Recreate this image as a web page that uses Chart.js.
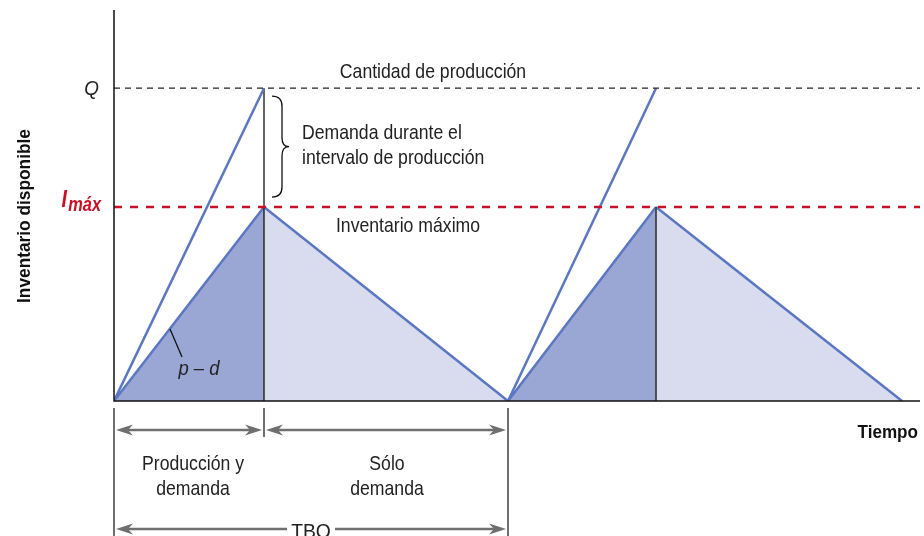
<!DOCTYPE html>
<html>
<head>
<meta charset="utf-8">
<script src="https://cdn.jsdelivr.net/npm/chart.js@4.4.1/dist/chart.umd.min.js"></script>
<style>
  body { margin: 0; background: #fff; }
  #wrap { width: 924px; height: 536px; }
</style>
</head>
<body>
<div id="wrap"><canvas id="inventario-chart" width="924" height="536"></canvas></div>
<script>
// tiempos del ciclo (unidades arbitrarias)
const inicioCiclo = [0, 39.4];
const finProduccion = [15, 54.2];
const finCiclo = [39.4, 78.8];
const tiempoMax = 80.6;

// niveles de inventario
const cantidadQ = 100;
const inventarioMax = 62;
const inventarioTope = 125;
// hasta donde llega la linea vertical de cada ciclo
const alturaVertical = [cantidadQ, inventarioMax];

// textos
const etiquetaQ = 'Q';
const etiquetaImax = ['I', 'máx'];
const tituloEjeY = 'Inventario disponible';
const tituloEjeX = 'Tiempo';
const textoQ = 'Cantidad de producción';
const textoLlave = ['Demanda durante el', 'intervalo de producción'];
const textoImax = 'Inventario máximo';
const textoPendiente = 'p – d';
const textoTramo1 = ['Producción y', 'demanda'];
const textoTramo2 = ['Sólo', 'demanda'];
const textoTBO = 'TBO';

const azul = '#5b77c3';
const rellenoOscuro = '#9aa6d4';
const rellenoClaro = '#d9dcef';
const rojo = '#cc1126';
const gris = '#6f6f6f';
const fam = '"Liberation Sans", Arial, sans-serif';
const estrecho = 0.84; // la fuente original es condensada

const datasets = [];
inicioCiclo.forEach((t0, i) => {
    datasets.push({
        data: [{ x: t0, y: 0 }, { x: finProduccion[i], y: inventarioMax }],
        borderColor: azul, borderWidth: 2.5, backgroundColor: rellenoOscuro,
        fill: 'origin', order: 4
    });
    datasets.push({
        data: [{ x: finProduccion[i], y: inventarioMax }, { x: finCiclo[i], y: 0 }],
        borderColor: azul, borderWidth: 2.5, backgroundColor: rellenoClaro,
        fill: 'origin', order: 3
    });
    datasets.push({
        data: [{ x: finProduccion[i], y: 0 }, { x: finProduccion[i], y: alturaVertical[i] }],
        borderColor: i === 0 ? '#111' : '#444', borderWidth: i === 0 ? 1.3 : 1.8,
        fill: false, order: 2
    });
    datasets.push({
        data: [{ x: t0, y: 0 }, { x: finProduccion[i], y: cantidadQ }],
        borderColor: azul, borderWidth: 2.5, fill: false, order: 1
    });
});

function flecha(ctx, x1, x2, y) {
    // linea con punta en ambos extremos
    ctx.save();
    ctx.strokeStyle = gris;
    ctx.fillStyle = gris;
    ctx.lineWidth = 2.5;
    ctx.beginPath();
    ctx.moveTo(x1 + 6, y);
    ctx.lineTo(x2 - 6, y);
    ctx.stroke();
    [[x1, 1], [x2, -1]].forEach(([x, s]) => {
        ctx.beginPath();
        ctx.moveTo(x, y);
        ctx.lineTo(x + s * 17, y - 5.5);
        ctx.lineTo(x + s * 12, y);
        ctx.lineTo(x + s * 17, y + 5.5);
        ctx.closePath();
        ctx.fill();
    });
    ctx.restore();
}

function texto(ctx, str, x, y, font, align, color, sx) {
    ctx.save();
    ctx.translate(x, y);
    ctx.scale(sx || estrecho, 1);
    ctx.font = font;
    ctx.textAlign = align || 'center';
    ctx.textBaseline = 'middle';
    ctx.fillStyle = color || '#222';
    ctx.fillText(str, 0, 0);
    ctx.restore();
}

const anotaciones = {
    id: 'anotaciones',
    afterDatasetsDraw(chart) {
        const { ctx, chartArea: a, scales: { x, y } } = chart;
        const yQ = y.getPixelForValue(cantidadQ);
        const yI = y.getPixelForValue(inventarioMax);
        const xP = x.getPixelForValue(finProduccion[0]);
        const x0 = x.getPixelForValue(inicioCiclo[0]);
        const xF = x.getPixelForValue(finCiclo[0]);

        ctx.save();
        // linea Q punteada
        ctx.strokeStyle = '#222';
        ctx.lineWidth = 1.2;
        ctx.setLineDash([6, 5]);
        ctx.beginPath(); ctx.moveTo(a.left, yQ); ctx.lineTo(a.right, yQ); ctx.stroke();
        // linea Imax roja
        ctx.strokeStyle = rojo;
        ctx.lineWidth = 2.5;
        ctx.setLineDash([8, 8]);
        ctx.beginPath(); ctx.moveTo(a.left, yI); ctx.lineTo(a.right, yI); ctx.stroke();
        ctx.setLineDash([]);

        // ejes
        ctx.strokeStyle = '#111';
        ctx.lineWidth = 1.5;
        ctx.beginPath();
        ctx.moveTo(a.left, a.top); ctx.lineTo(a.left, a.bottom); ctx.lineTo(a.right, a.bottom);
        ctx.stroke();

        // llave
        const bx = xP + 8, by1 = yQ + 8, by2 = yI - 10, bm = (by1 + by2) / 2;
        ctx.lineWidth = 1.3;
        ctx.beginPath();
        ctx.moveTo(bx, by1);
        ctx.quadraticCurveTo(bx + 10, by1, bx + 10, by1 + 10);
        ctx.lineTo(bx + 10, bm - 9);
        ctx.quadraticCurveTo(bx + 10, bm, bx + 17, bm);
        ctx.quadraticCurveTo(bx + 10, bm, bx + 10, bm + 9);
        ctx.lineTo(bx + 10, by2 - 10);
        ctx.quadraticCurveTo(bx + 10, by2, bx, by2);
        ctx.stroke();

        // linea guia p - d
        ctx.lineWidth = 1.3;
        ctx.beginPath(); ctx.moveTo(170, 329); ctx.lineTo(182, 357); ctx.stroke();

        // marcas bajo el eje
        ctx.strokeStyle = '#222';
        ctx.lineWidth = 1.3;
        ctx.beginPath();
        ctx.moveTo(x0, a.bottom + 7); ctx.lineTo(x0, a.bottom + 140);
        ctx.moveTo(xP, a.bottom + 7); ctx.lineTo(xP, a.bottom + 36);
        ctx.moveTo(xF, a.bottom + 7); ctx.lineTo(xF, a.bottom + 140);
        ctx.stroke();

        flecha(ctx, x0 + 2, xP - 2, a.bottom + 29);
        flecha(ctx, xP + 2, xF - 2, a.bottom + 29);
        flecha(ctx, x0 + 2, xF - 2, a.bottom + 128);
        ctx.fillStyle = '#fff';
        ctx.fillRect((x0 + xF) / 2 - 24, a.bottom + 118, 48, 20);

        const f = '21px ' + fam;
        texto(ctx, textoQ, 433, yQ - 16, f);
        texto(ctx, textoLlave[0], xP + 38, 133, f, 'left');
        texto(ctx, textoLlave[1], xP + 38, 158, f, 'left');
        texto(ctx, textoImax, 408, yI + 19, f);
        texto(ctx, textoTramo1[0], (x0 + xP) / 2 + 4, a.bottom + 63, f);
        texto(ctx, textoTramo1[1], (x0 + xP) / 2 + 4, a.bottom + 88, f);
        texto(ctx, textoTramo2[0], (xP + xF) / 2 + 1, a.bottom + 63, f);
        texto(ctx, textoTramo2[1], (xP + xF) / 2 + 1, a.bottom + 88, f);
        texto(ctx, textoTBO, (x0 + xF) / 2, a.bottom + 131, f, 'center', '#222', 0.92);
        texto(ctx, textoPendiente, 199, 369, 'italic 21px ' + fam, 'center', '#222', 0.88);
        texto(ctx, etiquetaQ, 99, yQ + 1, 'italic 21px ' + fam, 'right', '#222', 0.9);

        // I max con subindice
        ctx.save();
        ctx.textBaseline = 'alphabetic';
        ctx.textAlign = 'right';
        ctx.fillStyle = rojo;
        ctx.translate(101, yI + 4);
        ctx.scale(0.82, 1);
        ctx.font = 'italic bold 20px ' + fam;
        ctx.fillText(etiquetaImax[1], 0, 0);
        ctx.restore();
        ctx.save();
        ctx.textBaseline = 'alphabetic';
        ctx.textAlign = 'right';
        ctx.fillStyle = rojo;
        ctx.translate(67, yI);
        ctx.scale(0.85, 1);
        ctx.font = 'italic bold 23px ' + fam;
        ctx.fillText(etiquetaImax[0], 0, 0);
        ctx.restore();

        texto(ctx, tituloEjeX, 918, a.bottom + 32, 'bold 19px ' + fam, 'right', '#111', 0.9);

        ctx.translate(25, 216);
        ctx.rotate(-Math.PI / 2);
        texto(ctx, tituloEjeY, 0, 0, 'bold 19px ' + fam, 'center', '#111', 0.91);
        ctx.restore();
    }
};

new Chart(document.getElementById('inventario-chart'), {
    type: 'line',
    data: { datasets: datasets },
    options: {
        responsive: false,
        animation: false,
        devicePixelRatio: 1,
        layout: { padding: { left: 114, top: 10, right: 4, bottom: 135 } },
        elements: { point: { radius: 0 }, line: { tension: 0 } },
        plugins: { legend: { display: false }, tooltip: { enabled: false } },
        scales: {
            x: { type: 'linear', min: 0, max: tiempoMax, display: false },
            y: { min: 0, max: inventarioTope, display: false }
        }
    },
    plugins: [anotaciones]
});
</script>
</body>
</html>
